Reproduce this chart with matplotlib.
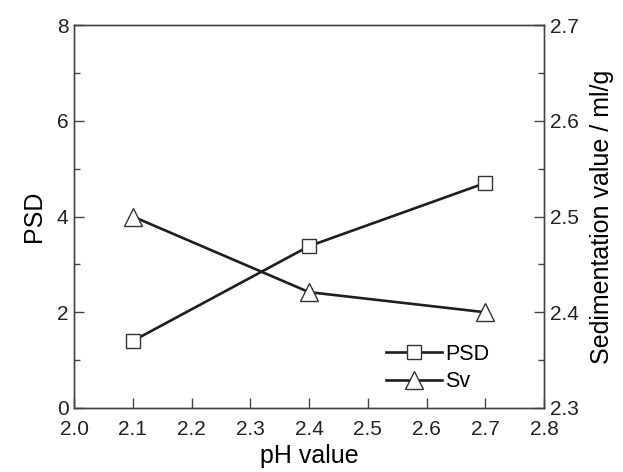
import matplotlib
matplotlib.use('Agg')
import matplotlib.pyplot as plt
from matplotlib.ticker import MultipleLocator

plt.rcParams['font.family'] = ['Liberation Sans', 'DejaVu Sans']

ph = [2.1, 2.4, 2.7]
psd = [1.40, 3.38, 4.70]
sv = [2.500, 2.421, 2.400]

fig = plt.figure(figsize=(6.23, 4.72), dpi=100)
ax = fig.add_axes([0.1188, 0.1356, 0.7544, 0.8114])
ax2 = ax.twinx()

lc = '#1e1e1e'
l1, = ax.plot(ph, psd, color=lc, lw=1.9, marker='s', ms=10,
              mfc='white', mec='#333333', mew=1.0, label='PSD')
l2, = ax2.plot(ph, sv, color=lc, lw=1.9, marker='^', ms=13,
               mfc='white', mec='#333333', mew=1.0, label='Sv')

ax.set_xlim(2.0, 2.8)
ax.set_ylim(0, 8)
ax2.set_ylim(2.3, 2.7)
ax.xaxis.set_major_locator(MultipleLocator(0.1))
ax.yaxis.set_major_locator(MultipleLocator(2))
ax.yaxis.set_minor_locator(MultipleLocator(1))
ax2.yaxis.set_major_locator(MultipleLocator(0.1))
ax2.yaxis.set_minor_locator(MultipleLocator(0.05))

for a in (ax, ax2):
    for s in a.spines.values():
        s.set_color('#444444')
        s.set_linewidth(1.0)
    a.tick_params(which='both', direction='in', labelsize=15, colors='#222222')
    a.tick_params(which='major', length=7, width=1.0, color='#444444', pad=4)
    a.tick_params(which='minor', length=4, width=1.0, color='#444444')
ax.tick_params(axis='x', pad=9)

ax.set_xticklabels(['%.1f' % v for v in ax.get_xticks()])
ax.set_xlabel('pH value', fontsize=18, labelpad=3)
ax.set_ylabel('PSD', fontsize=18, labelpad=8)
ax2.set_ylabel('Sedimentation value / ml/g', fontsize=18, labelpad=8)

ax2.legend(handles=[l1, l2], loc='lower right', bbox_to_anchor=(0.925, -0.01),
           frameon=False, fontsize=15.5, handlelength=2.6, handletextpad=0.15,
           labelspacing=0.3)

fig.savefig('out.png', dpi=100)
